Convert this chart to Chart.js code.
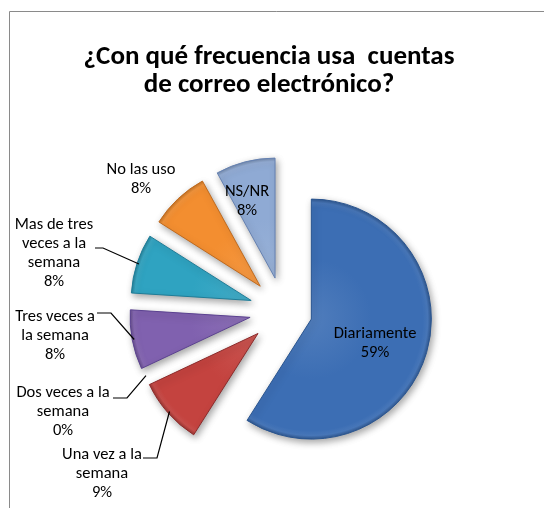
<!DOCTYPE html>
<html>
<head>
<meta charset="utf-8">
<script src="https://cdn.jsdelivr.net/npm/chart.js@4.4.0/dist/chart.umd.min.js"></script>
<style>
  html, body { margin: 0; padding: 0; background: #fff; }
  #wrap { width: 544px; height: 508px; }
</style>
</head>
<body>
<div id="wrap"><canvas id="chart" width="544" height="508"></canvas></div>
<script>
// Survey answers, clockwise from 12 o'clock
var categories = [
	'Diariamente',
	'Una vez a la semana',
	'Dos veces a la semana',
	'Tres veces a la semana',
	'Mas de tres veces a la semana',
	'No las uso',
	'NS/NR'
];
var percentages = [ 59, 9, 0, 8, 8, 8, 8 ];
var titleLines = [ '¿Con qué frecuencia usa  cuentas', 'de correo electrónico?' ];

// category text as it is wrapped in the data labels
var labelLines = [
	[ 'Diariamente' ],
	[ 'Una vez a la', 'semana' ],
	[ 'Dos veces a la', 'semana' ],
	[ 'Tres veces a', 'la semana' ],
	[ 'Mas de tres', 'veces a la', 'semana' ],
	[ 'No las uso' ],
	[ 'NS/NR' ]
];

// styling
var baseColors = [ '#3C6EB4', '#C4433F', '#9BBB59', '#8061AF', '#2FA3C1', '#F38E30', '#8FAAD4' ];
var edgeColors = [ '#2A5590', '#8C2B2B', '#6E8A3A', '#5B4290', '#1F7D98', '#C06A1E', '#6682B2' ];
var explode = [ 29, 34, 34, 34, 34, 34, 34 ];
var RADIUS = 120;
var LABEL_FONT = '16.5px Carlito, Calibri, Lato, sans-serif';
var TITLE_FONT = 'bold 27px Carlito, Calibri, Lato, sans-serif';
var LINE_H = 19;

// label anchors: x, y of first line; optional leader [x1, y, x2]
var labelLayout = [
	{ x: 375, y: 334 },
	{ x: 102, y: 455, leader: [ 143, 458, 157 ] },
	{ x: 63, y: 393, leader: [ 113, 398, 127 ] },
	{ x: 55, y: 317, leader: [ 97, 313, 111 ] },
	{ x: 54, y: 225, leader: [ 95, 248, 103 ] },
	{ x: 141, y: 170 },
	{ x: 247, y: 192 }
];

function shade( hex, amt ) {
	var n = parseInt( hex.slice( 1 ), 16 );
	var r = ( n >> 16 ) & 255, g = ( n >> 8 ) & 255, b = n & 255;
	function f( v ) {
		v = amt > 0 ? v + ( 255 - v ) * amt : v * ( 1 + amt );
		return Math.round( Math.max( 0, Math.min( 255, v ) ) );
	}
	return 'rgb(' + f( r ) + ',' + f( g ) + ',' + f( b ) + ')';
}

// soft bevel: slightly lighter towards the centre, dark rim at the edge
function sliceFill( ctx ) {
	var chart = ctx.chart;
	var area = chart.chartArea;
	var base = baseColors[ ctx.dataIndex ];
	if ( ! area ) {
		return base;
	}
	var cx = ( area.left + area.right ) / 2;
	var cy = ( area.top + area.bottom ) / 2;
	var g = chart.ctx.createRadialGradient( cx, cy, 0, cx, cy, RADIUS );
	g.addColorStop( 0, shade( base, 0.1 ) );
	g.addColorStop( 0.5, base );
	g.addColorStop( 0.93, base );
	g.addColorStop( 0.97, shade( base, 0.06 ) );
	g.addColorStop( 1, shade( base, -0.2 ) );
	return g;
}

function sliceShift( arc, i ) {
	var mid = ( arc.startAngle + arc.endAngle ) / 2;
	return { x: Math.cos( mid ) * explode[ i ], y: Math.sin( mid ) * explode[ i ], mid: mid };
}

var framePlugin = {
	id: 'frame',
	beforeDraw: function( chart ) {
		var c = chart.ctx;
		c.save();
		c.fillStyle = '#fff';
		c.fillRect( 0, 0, chart.width, chart.height );
		c.strokeStyle = '#8a8a8a';
		c.lineWidth = 1;
		c.beginPath();
		c.moveTo( 9.5, chart.height );
		c.lineTo( 9.5, 11.5 );
		c.lineTo( chart.width, 11.5 );
		c.stroke();

		c.fillStyle = '#000';
		c.font = TITLE_FONT;
		c.textAlign = 'center';
		c.textBaseline = 'alphabetic';
		c.fillText( titleLines[ 0 ], 269, 64 );
		c.fillText( titleLines[ 1 ], 269, 92 );
		c.restore();
	}
};

// draws every arc pushed out along its bisector, with a drop shadow
var explodePlugin = {
	id: 'explodeSlices',
	beforeDatasetDraw: function( chart, args ) {
		var c = chart.ctx;
		c.save();
		c.shadowColor = 'rgba(0, 0, 0, 0.35)';
		c.shadowBlur = 7;
		c.shadowOffsetX = 2;
		c.shadowOffsetY = 3;
		args.meta.data.forEach( function( arc, i ) {
			var s = sliceShift( arc, i );
			c.save();
			c.translate( s.x, s.y );
			arc.draw( c, chart.chartArea );
			c.restore();
		} );
		c.restore();
		return false;
	}
};

var labelPlugin = {
	id: 'sliceLabels',
	afterDraw: function( chart ) {
		var c = chart.ctx;
		var arcs = chart.getDatasetMeta( 0 ).data;
		c.save();
		c.font = LABEL_FONT;
		c.fillStyle = '#000';
		c.strokeStyle = '#000';
		c.lineWidth = 1.2;
		c.textAlign = 'center';
		c.textBaseline = 'middle';

		labelLayout.forEach( function( box, i ) {
			var lines = labelLines[ i ].concat( percentages[ i ] + '%' );
			lines.forEach( function( t, k ) {
				c.fillText( t, box.x, box.y + k * LINE_H );
			} );

			if ( box.leader ) {
				var arc = arcs[ i ];
				var s = sliceShift( arc, i );
				var rr = arc.outerRadius - 2;
				var ax = arc.x + s.x + Math.cos( s.mid ) * rr;
				var ay = arc.y + s.y + Math.sin( s.mid ) * rr;
				c.beginPath();
				c.moveTo( box.leader[ 0 ], box.leader[ 1 ] );
				c.lineTo( box.leader[ 2 ], box.leader[ 1 ] );
				c.lineTo( ax, ay );
				c.stroke();
			}
		} );
		c.restore();
	}
};

new Chart( document.getElementById( 'chart' ), {
	type: 'pie',
	data: {
		labels: categories,
		datasets: [ {
			data: percentages,
			backgroundColor: sliceFill,
			borderColor: edgeColors,
			borderWidth: 1
		} ]
	},
	options: {
		responsive: false,
		animation: false,
		events: [],
		radius: RADIUS,
		layout: {
			padding: { left: 40, right: 17, top: 140, bottom: 26 }
		},
		plugins: {
			legend: { display: false },
			title: { display: false },
			tooltip: { enabled: false }
		}
	},
	plugins: [ framePlugin, explodePlugin, labelPlugin ]
} );
</script>
</body>
</html>
